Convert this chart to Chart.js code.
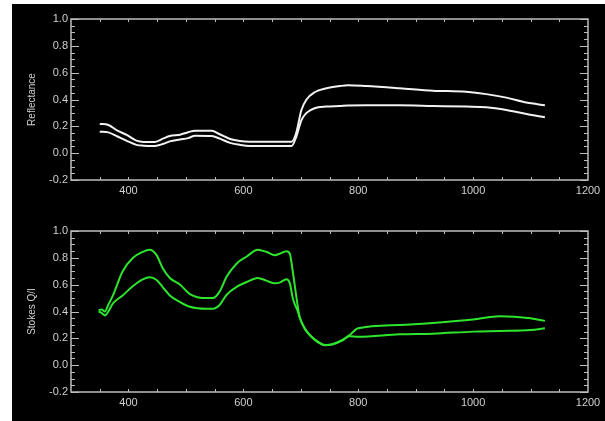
<!DOCTYPE html>
<html>
<head>
<meta charset="utf-8">
<script src="https://cdn.jsdelivr.net/npm/chart.js@4.4.1/dist/chart.umd.min.js"></script>
<style>
  html, body { margin: 0; padding: 0; background: #fff; }
  #wrap { position: relative; width: 605px; height: 421px; overflow: hidden; }
  #panel { position: absolute; left: 12px; top: 4px; right: 0; bottom: 0; background: #000; }
  .box { position: absolute; left: 0; width: 605px; }
</style>
</head>
<body>
<div id="wrap">
  <div id="panel"></div>
  <div class="box" style="top:0;height:210px"><canvas id="topChart"></canvas></div>
  <div class="box" style="top:210px;height:211px"><canvas id="bottomChart"></canvas></div>
</div>
<script>
// reflectance panel
const wlTop = [350, 365, 380, 397, 414, 426, 446, 461, 472, 490, 504, 516, 545, 559, 577, 594, 611, 684, 692, 701, 710, 724, 745, 768, 782, 814, 872, 930, 988, 1023, 1058, 1093, 1125];
const reflUpper = [0.218, 0.21, 0.17, 0.136, 0.093, 0.084, 0.084, 0.11, 0.128, 0.138, 0.156, 0.168, 0.168, 0.141, 0.106, 0.091, 0.086, 0.086, 0.15, 0.32, 0.40, 0.454, 0.484, 0.50, 0.506, 0.50, 0.484, 0.466, 0.457, 0.44, 0.414, 0.377, 0.357];
const reflLower = [0.16, 0.155, 0.126, 0.092, 0.062, 0.056, 0.054, 0.07, 0.088, 0.102, 0.112, 0.13, 0.128, 0.108, 0.077, 0.062, 0.054, 0.054, 0.12, 0.245, 0.30, 0.335, 0.347, 0.352, 0.356, 0.357, 0.357, 0.352, 0.347, 0.342, 0.322, 0.292, 0.268];

// stokes Q/I panel
const wlBottom = [348, 353, 359, 365, 373, 390, 408, 425, 437, 449, 460, 472, 490, 507, 536, 547, 559, 571, 589, 606, 625, 640, 655, 663, 675, 681, 686, 690, 695, 698, 707, 719, 730, 742, 756, 773, 785, 800, 872, 930, 1000, 1046, 1100, 1125];
const qiUpper = [0.41, 0.415, 0.40, 0.45, 0.52, 0.70, 0.80, 0.845, 0.86, 0.82, 0.72, 0.65, 0.60, 0.53, 0.50, 0.50, 0.55, 0.66, 0.76, 0.81, 0.86, 0.845, 0.82, 0.83, 0.85, 0.83, 0.70, 0.58, 0.43, 0.36, 0.275, 0.21, 0.175, 0.15, 0.158, 0.19, 0.225, 0.275, 0.30, 0.315, 0.34, 0.365, 0.35, 0.33];
const qiLower = [0.40, 0.39, 0.37, 0.40, 0.46, 0.52, 0.59, 0.64, 0.655, 0.635, 0.58, 0.52, 0.47, 0.435, 0.42, 0.42, 0.45, 0.525, 0.585, 0.62, 0.65, 0.63, 0.61, 0.615, 0.64, 0.61, 0.50, 0.45, 0.40, 0.355, 0.27, 0.21, 0.17, 0.148, 0.155, 0.185, 0.215, 0.212, 0.23, 0.235, 0.25, 0.255, 0.262, 0.275];

const xLabels = [400, 600, 800, 1000, 1200];
const yLabels = [-0.2, 0.0, 0.2, 0.4, 0.6, 0.8, 1.0];

function pts(xs, ys) {
    return xs.map((x, i) => ({ x: x, y: ys[i] }));
}

// IDL style frame with inward ticks
const idlAxes = {
    id: 'idlAxes',
    afterDraw(chart, args, opts) {
        const c = chart.ctx;
        const a = chart.chartArea;
        const xs = chart.scales.x;
        const ys = chart.scales.y;
        c.save();
        c.strokeStyle = '#bdbdbd';
        c.lineWidth = 1.5;
        c.strokeRect(a.left, a.top, a.right - a.left, a.bottom - a.top);
        c.lineWidth = 1;
        c.beginPath();
        for (let v = -0.2; v <= 1.0001; v += 0.05) {
            const y = Math.round(ys.getPixelForValue(v)) + 0.5;
            const major = Math.abs(v * 5 - Math.round(v * 5)) < 0.001;
            const len = major ? 8 : 4;
            c.moveTo(a.left, y); c.lineTo(a.left + len, y);
            c.moveTo(a.right, y); c.lineTo(a.right - len, y);
        }
        for (let v = 350; v < 1200; v += 50) {
            const x = Math.round(xs.getPixelForValue(v)) + 0.5;
            c.moveTo(x, a.bottom); c.lineTo(x, a.bottom - 3);
            c.moveTo(x, a.top); c.lineTo(x, a.top + 3);
        }
        c.stroke();

        c.fillStyle = '#d0d0d0';
        c.font = '11px "Liberation Sans", Arial, sans-serif';
        c.textAlign = 'right';
        c.textBaseline = 'middle';
        yLabels.forEach(v => {
            c.fillText(v.toFixed(1), a.left - 3, ys.getPixelForValue(v));
        });
        c.textAlign = 'center';
        xLabels.forEach(v => {
            c.fillText(String(v), xs.getPixelForValue(v), a.bottom + 11);
        });
        c.font = '10px "Liberation Sans", Arial, sans-serif';
        c.translate(32, (a.top + a.bottom) / 2);
        c.rotate(-Math.PI / 2);
        c.fillText(opts.title, 0, 0);
        c.restore();
    }
};

function makeChart(id, title, color, xs, up, lo, pad) {
    new Chart(document.getElementById(id), {
        type: 'line',
        data: {
            datasets: [
                { data: pts(xs, up), borderColor: color, borderWidth: 2, pointRadius: 0, tension: 0.3, cubicInterpolationMode: 'monotone' },
                { data: pts(xs, lo), borderColor: color, borderWidth: 2, pointRadius: 0, tension: 0.3, cubicInterpolationMode: 'monotone' }
            ]
        },
        options: {
            responsive: true,
            maintainAspectRatio: false,
            animation: false,
            layout: { padding: pad },
            plugins: {
                legend: { display: false },
                tooltip: { enabled: false },
                idlAxes: { title: title }
            },
            scales: {
                x: { type: 'linear', min: 300, max: 1200, display: false },
                y: { min: -0.2, max: 1.0, display: false }
            }
        },
        plugins: [idlAxes]
    });
}

makeChart('topChart', 'Reflectance', '#f2f2f2', wlTop, reflUpper, reflLower,
    { left: 71, top: 19, right: 17, bottom: 30 });
makeChart('bottomChart', 'Stokes Q/I', '#2ee52e', wlBottom, qiUpper, qiLower,
    { left: 71, top: 21, right: 17, bottom: 29 });
</script>
</body>
</html>
